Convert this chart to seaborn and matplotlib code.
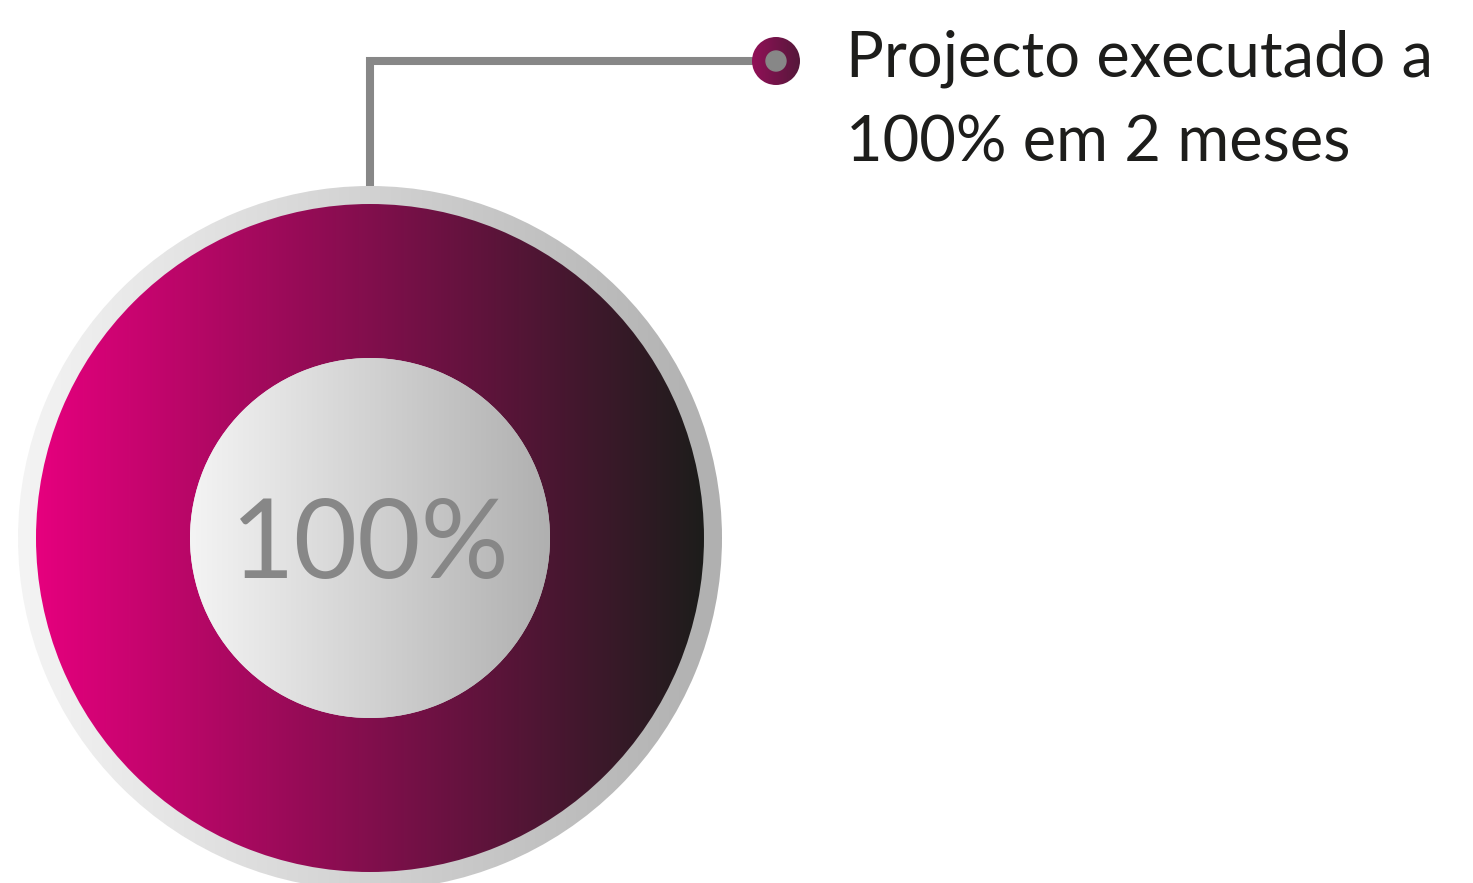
import matplotlib
matplotlib.use("Agg")
import matplotlib.pyplot as plt
import seaborn as sns
import numpy as np

# values shown on the chart
done = [100]
centre_label = "100%"
note_lines = ["Projecto executado a", "100% em 2 meses"]

# gradient colours (left -> right)
ring_cols = ["#e6007e", "#1d1d1b"]
rim_cols = ["#f4f4f4", "#b0b0b0"]
hole_cols = ["#f4f4f4", "#b0b0b0"]
dot_cols = ["#921058", "#55183a"]

sns.set_theme(style="white")
plt.rcParams["font.family"] = ["Lato", "DejaVu Sans"]

W, H = 1473, 883
fig = plt.figure(figsize=(W / 100, H / 100), dpi=100)
ax = fig.add_axes([0, 0, 1, 1])

cx, cy = 370, H - 538


def grad_disk(r, cols, c=(cx, cy), width=None):
    # full-circle pie wedge used as a clip path for a gradient image
    wp = dict(facecolor="none", edgecolor="none")
    if width is not None:
        wp["width"] = width
    wedges, _ = ax.pie(done, radius=r, center=c, wedgeprops=wp, frame=True)
    cmap = sns.blend_palette(cols, 256, as_cmap=True)
    im = ax.imshow(np.linspace(0, 1, 256)[None, :], cmap=cmap, aspect="auto",
                   extent=[c[0] - r, c[0] + r, c[1] - r, c[1] + r],
                   interpolation="bilinear", zorder=wedges[0].get_zorder())
    im.set_clip_path(wedges[0])
    return im


grad_disk(352, rim_cols)
grad_disk(334, ring_cols, width=334 - 180)
grad_disk(180, hole_cols)

# connector line and dot
ax.plot([370, 370, 776], [H - 186, H - 61, H - 61], color="#878787", lw=5.8,
        solid_joinstyle="miter", solid_capstyle="butt", zorder=3)
dot = (776, H - 61)
im = grad_disk(24, dot_cols, c=dot)
im.set_zorder(4)
ax.add_patch(plt.Circle(dot, 10, color="#878787", zorder=5))

ax.text(cx, H - 578, centre_label, ha="center", va="baseline", fontsize=79,
        color="#878787", zorder=6)
for line, base in zip(note_lines, [77, 162]):
    ax.text(846, H - base, line, ha="left", va="baseline", fontsize=45.5,
            color="#1d1d1b", zorder=6)

ax.set_xlim(0, W)
ax.set_ylim(0, H)
ax.set_aspect("auto")
ax.axis("off")
fig.savefig("out.png", dpi=100)
